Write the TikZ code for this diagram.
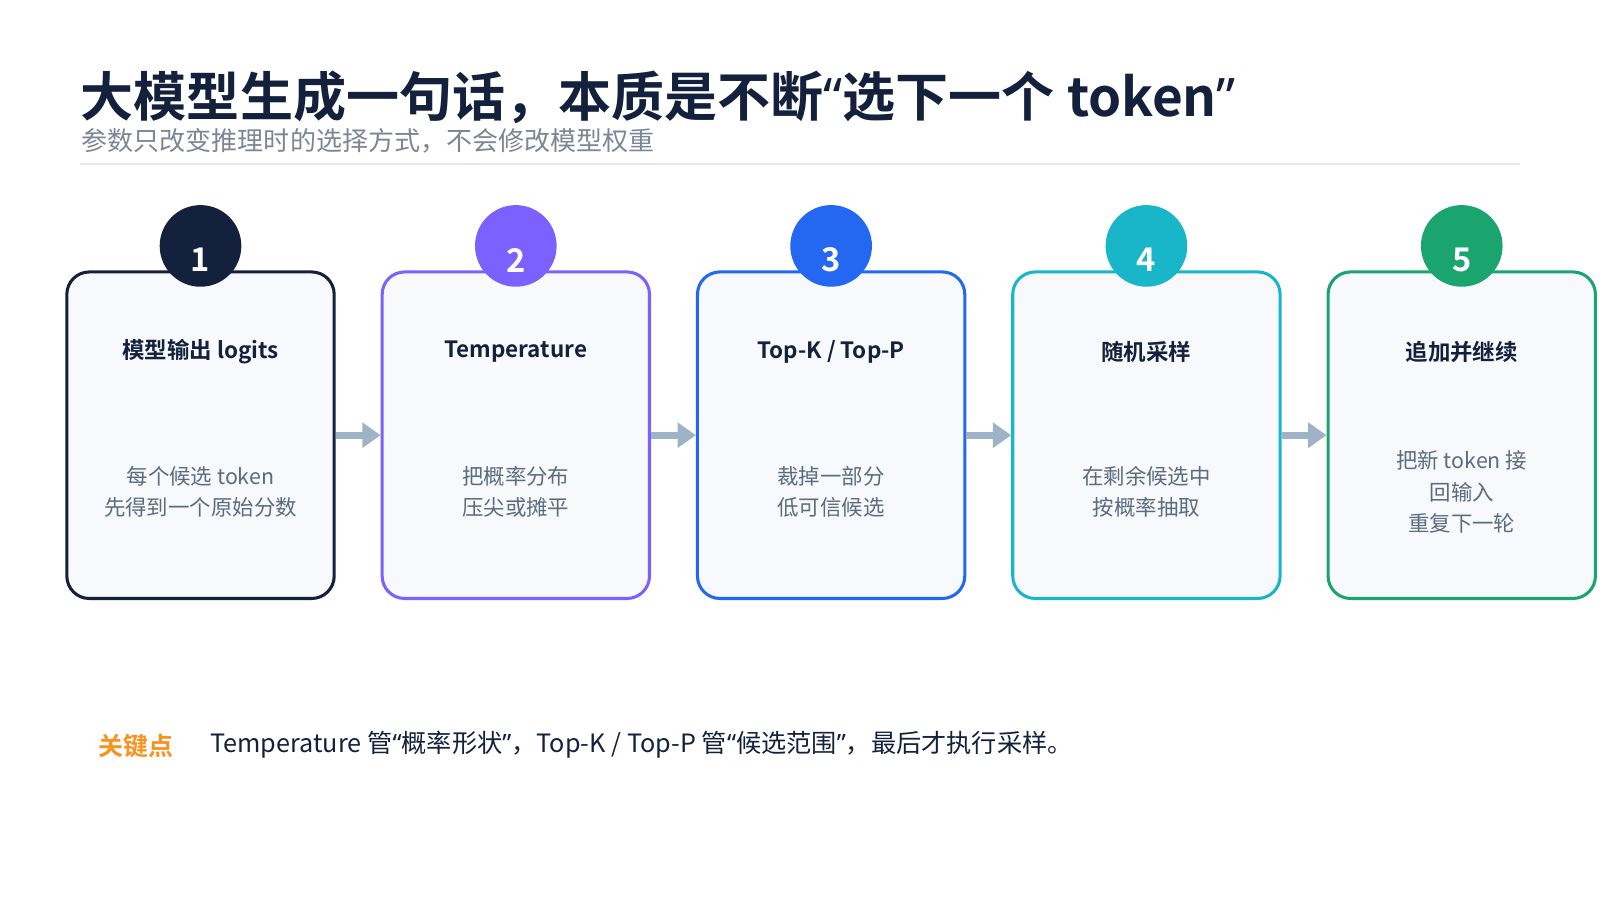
\documentclass[tikz,border=0pt]{standalone}
\usepackage{fontspec}
\setmainfont{Noto Sans CJK SC}[BoldFont={Noto Sans CJK SC Bold}]
\newfontfamily\latq{Noto Sans}
\newcommand{\myLq}{{\latq “}}
\newcommand{\myRq}{{\latq ”}}
\usetikzlibrary{arrows.meta}
\definecolor{cdark}{HTML}{14213D}
\definecolor{cpurple}{HTML}{7B61FF}
\definecolor{cblue}{HTML}{2468F2}
\definecolor{cteal}{HTML}{19B6C9}
\definecolor{cgreen}{HTML}{1AA56E}
\definecolor{cfill}{HTML}{F7F9FD}
\definecolor{carrow}{HTML}{9FB3C8}
\definecolor{csub}{HTML}{7B8696}
\definecolor{cdesc}{HTML}{5B6B80}
\definecolor{corange}{HTML}{F7931E}
\definecolor{cline}{HTML}{E2E8F0}
\tikzset{
  card/.style={draw=#1, line width=3pt, fill=cfill, rounded corners=22pt, minimum width=262pt, minimum height=320pt, inner sep=0pt},
  num/.style={circle, fill=#1, minimum size=80pt, inner sep=0pt},
  ctitle/.style={font=\fontsize{22}{26}\selectfont\bfseries, text=cdark},
  cdesc/.style={font=\fontsize{21}{31}\selectfont, text=cdesc, align=center},
  flow/.style={carrow, line width=7pt, -{Triangle[length=18pt,width=24pt]}}
}
\begin{document}
\begin{tikzpicture}[x=1pt,y=-1pt]
\useasboundingbox[fill=white] (0,0) rectangle (1568,882);
\node[anchor=west, font=\fontsize{52}{56}\selectfont\bfseries, text=cdark, inner sep=0pt] (title) at (79,95) {大模型生成一句话，本质是不断{\latq\bfseries “}选下一个 token{\latq\bfseries ”}};
\node[anchor=west, font=\fontsize{25.5}{28}\selectfont, text=csub, inner sep=0pt] (sub) at (80,138) {参数只改变推理时的选择方式，不会修改模型权重};
\draw[cline, line width=2pt] (78,161) coordinate (l1) -- (1490,161) coordinate (l2);
\foreach \i/\c/\t/\d in {
  1/cdark/{模型输出 logits}/{每个候选 token\\先得到一个原始分数},
  2/cpurple/{Temperature}/{把概率分布\\压尖或摊平},
  3/cblue/{Top-K / Top-P}/{裁掉一部分\\低可信候选},
  4/cteal/{随机采样}/{在剩余候选中\\按概率抽取},
  5/cgreen/{追加并继续}/{把新 token 接\\回输入\\重复下一轮}}{
  \pgfmathsetmacro{\cx}{196.5+309*(\i-1)}
  \node[card=\c] (box\i) at (\cx,426.5) {};
  \node[num=\c] (n\i) at (\cx,241) {};
  \node[text=white, font=\fontsize{32}{34}\selectfont\bfseries] (nt\i) at (\cx,255) {\i};
  \node[ctitle] (t\i) at (\cx,345) {\t};
  \node[cdesc] (d\i) at (\cx,482) {\d};
}
\foreach \a/\b in {1/2,2/3,3/4,4/5}{
  \draw[flow] (box\a.east) -- (box\b.west);
}
\node[anchor=west, font=\fontsize{24.5}{28}\selectfont\bfseries, text=corange, inner sep=0pt] (key) at (96,731) {关键点};
\node[anchor=west, font=\fontsize{24.7}{28}\selectfont, text=cdark, inner sep=0pt] (note) at (206,730) {Temperature 管\myLq 概率形状\myRq ，Top-K / Top-P 管\myLq 候选范围\myRq ，最后才执行采样。};
\end{tikzpicture}
\end{document}
